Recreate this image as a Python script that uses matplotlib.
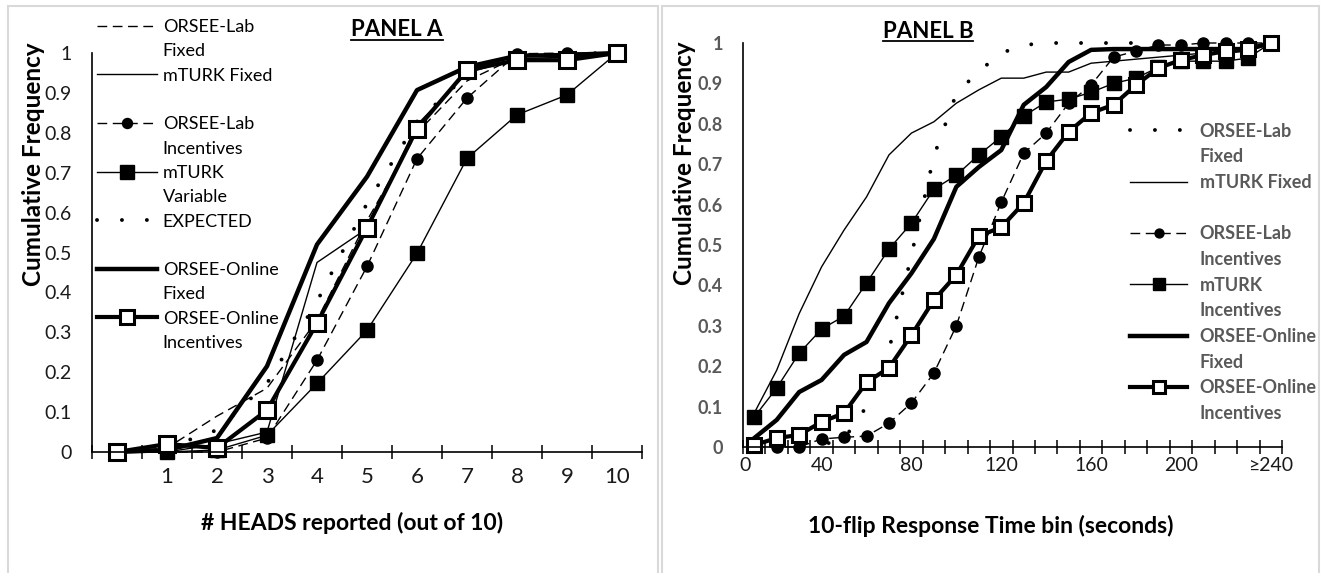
import numpy as np
import matplotlib
matplotlib.use('Agg')
import matplotlib.pyplot as plt
from matplotlib.lines import Line2D
from matplotlib.patches import Rectangle

plt.rcParams['font.family'] = ['Lato', 'DejaVu Sans']

# Panel A - cumulative share by number of heads reported
heads_labels = ['', '1', '2', '3', '4', '5', '6', '7', '8', '9', '10']
a_lab_fixed = [0, 0.01, 0.09, 0.16, 0.33, 0.58, 0.80, 0.93, 0.99, 1.0, 1.0]
a_mturk_fixed = [0, 0, 0.02, 0.05, 0.475, 0.56, 0.82, 0.95, 0.985, 0.99, 1.0]
a_lab_incent = [0, 0, 0, 0.035, 0.23, 0.465, 0.735, 0.887, 0.998, 1.0, 1.0]
a_mturk_var = [0, 0, 0.005, 0.042, 0.172, 0.305, 0.498, 0.736, 0.845, 0.895, 1.0]
a_expected = [0.001, 0.011, 0.055, 0.172, 0.377, 0.623, 0.828, 0.945, 0.989, 0.999, 1.0]
a_online_fixed = [0, 0.005, 0.035, 0.215, 0.52, 0.69, 0.907, 0.965, 0.993, 0.995, 1.0]
a_online_incent = [0, 0.02, 0.01, 0.105, 0.323, 0.562, 0.81, 0.957, 0.982, 0.982, 1.0]

# Panel B - cumulative share by response time bin (24 bins)
b_tick_labels = ['0', '40', '80', '120', '160', '200', '≥240']
b_lab_fixed = [0, 0, 0, 0.005, 0.02, 0.10, 0.24, 0.475, 0.72, 0.875, 0.93, 0.975,
               0.995, 1, 1, 1, 1, 1, 1, 1, 1, 1, 1, 1]
b_mturk_fixed = [0.084, 0.19, 0.33, 0.446, 0.537, 0.619, 0.723, 0.777, 0.805, 0.851,
                 0.884, 0.913, 0.913, 0.928, 0.928, 0.95, 0.955, 0.96, 0.965, 0.97,
                 0.975, 0.975, 0.98, 1.0]
b_lab_incent = [0, 0, 0, 0.02, 0.024, 0.027, 0.059, 0.109, 0.183, 0.30, 0.47, 0.606,
                0.727, 0.777, 0.851, 0.896, 0.965, 0.98, 0.995, 0.995, 1, 1, 1, 1]
b_mturk_incent = [0.074, 0.146, 0.232, 0.292, 0.324, 0.406, 0.49, 0.554, 0.638, 0.673,
                  0.723, 0.768, 0.819, 0.854, 0.861, 0.878, 0.90, 0.913, 0.94, 0.955,
                  0.955, 0.955, 0.963, 1.0]
b_online_fixed = [0.022, 0.067, 0.136, 0.166, 0.228, 0.26, 0.356, 0.43, 0.515, 0.644,
                  0.693, 0.735, 0.847, 0.891, 0.953, 0.983, 0.985, 0.985, 0.985, 0.985,
                  0.985, 0.985, 0.985, 1.0]
b_online_incent = [0.005, 0.022, 0.03, 0.062, 0.084, 0.16, 0.196, 0.277, 0.364, 0.426,
                   0.522, 0.544, 0.604, 0.708, 0.78, 0.827, 0.847, 0.896, 0.938, 0.958,
                   0.97, 0.98, 0.985, 1.0]

y_ticks = np.round(np.arange(0, 1.01, 0.1), 1)
y_tick_labels = ['0'] + [f'{v:g}' for v in y_ticks[1:-1]] + ['1']

W, H = 1325, 573
fig = plt.figure(figsize=(W / 100, H / 100), dpi=100)

# light grey panel frames
for x0, w in [(8, 650), (662, 657)]:
    fig.patches.append(Rectangle((x0 / W, -0.02), w / W, 1 - 6 / H + 0.02,
                                 transform=fig.transFigure, fill=False,
                                 edgecolor='#d9d9d9', lw=1.5))

axA = fig.add_axes([92 / W, 121 / H, 550 / W, 399 / H])
axB = fig.add_axes([743 / W, 126 / H, 539 / W, 404 / H])

dotted = (0, (0.01, 6.4))
dashed = (0, (7, 4))


def style(ax, n, xlab_size, ylab_size, ylab_color, ylab_weight, xpad):
    ax.set_xlim(-0.5, n - 0.5)
    ax.set_ylim(0, 1)
    for s in ['top', 'right']:
        ax.spines[s].set_visible(False)
    for s in ['left', 'bottom']:
        ax.spines[s].set_linewidth(1.2)
        ax.spines[s].set_color('black')
    ax.set_xticks(np.arange(n + 1) - 0.5, minor=True)
    ax.tick_params(axis='x', which='minor', direction='inout', length=9.5,
                   width=1.1, color='black')
    ax.tick_params(axis='x', which='major', length=0, pad=xpad,
                   labelsize=xlab_size, labelcolor='#1a1a1a')
    ax.set_yticks(y_ticks, y_tick_labels)
    ax.tick_params(axis='y', length=0, pad=14.4, labelsize=ylab_size,
                   labelcolor=ylab_color)
    for t in ax.get_yticklabels():
        t.set_fontweight(ylab_weight)


# ---- Panel A ----
xa = np.arange(len(a_expected))
hA = []
hA.append(axA.plot(xa, a_lab_fixed, color='black', lw=1.0, ls=dashed, clip_on=False)[0])
hA.append(axA.plot(xa, a_mturk_fixed, color='black', lw=1.0, clip_on=False)[0])
hA.append(axA.plot(xa, a_lab_incent, color='black', lw=1.0, ls=dashed, marker='o',
                   ms=8, clip_on=False)[0])
hA.append(axA.plot(xa, a_mturk_var, color='black', lw=1.0, marker='s', ms=10.5,
                   clip_on=False)[0])
hA.append(axA.plot(xa, a_expected, color='black', lw=2.8, ls=dotted,
                   dash_capstyle='round', clip_on=False)[0])
hA.append(axA.plot(xa, a_online_fixed, color='black', lw=3.2, clip_on=False)[0])
hA.append(axA.plot(xa, a_online_incent, color='black', lw=3.0, marker='s', ms=11,
                   mfc='white', mec='black', mew=2.2, clip_on=False)[0])
style(axA, len(xa), 16, 14, '#1a1a1a', 'normal', 11)
axA.set_xticks(xa, heads_labels)
axA.set_xlabel('# HEADS reported (out of 10)', fontsize=16.5, fontweight='bold', va='center')
axA.xaxis.set_label_coords(0.473, -0.178)
axA.set_ylabel('Cumulative Frequency', fontsize=17.5, fontweight='bold', va='center')
axA.yaxis.set_label_coords(-0.107, 0.72)

blank = Line2D([], [], linestyle='none')
labelsA = ['ORSEE-Lab', 'Fixed', 'mTURK Fixed', ' ', 'ORSEE-Lab', 'Incentives', 'mTURK',
           'Variable', 'EXPECTED', ' ', 'ORSEE-Online', 'Fixed', 'ORSEE-Online', 'Incentives']
handlesA = []
for h in hA:
    handlesA += [h, blank]
axA.legend(handlesA, labelsA, loc='upper left', bbox_to_anchor=(0.009, 1.085),
           frameon=False, borderpad=0, borderaxespad=0, handlelength=3.3,
           handletextpad=0.35, labelspacing=0.46, fontsize=13, markerscale=0.9)

# ---- Panel B ----
xb = np.arange(len(b_lab_fixed))
hB = []
hB.append(axB.plot(xb, b_lab_fixed, color='black', lw=2.8, ls=dotted,
                   dash_capstyle='round', clip_on=False)[0])
hB.append(axB.plot(xb, b_mturk_fixed, color='black', lw=1.0, clip_on=False)[0])
hB.append(axB.plot(xb, b_lab_incent, color='black', lw=1.0, ls=dashed, marker='o',
                   ms=8, clip_on=False)[0])
hB.append(axB.plot(xb, b_mturk_incent, color='black', lw=1.0, marker='s', ms=10,
                   clip_on=False)[0])
hB.append(axB.plot(xb, b_online_fixed, color='black', lw=3.2, clip_on=False)[0])
hB.append(axB.plot(xb, b_online_incent, color='black', lw=3.0, marker='s', ms=10.5,
                   mfc='white', mec='black', mew=2.2, clip_on=False)[0])
style(axB, len(xb), 14, 13, '#595959', 'bold', 7)
axB.set_xticks([-0.4] + list(range(3, len(xb), 4)), b_tick_labels)
axB.set_xlabel('10-flip Response Time bin (seconds)', fontsize=16.5, fontweight='bold',
               va='center')
axB.xaxis.set_label_coords(0.46, -0.196)
axB.set_ylabel('Cumulative Frequency', fontsize=17.5, fontweight='bold', va='center')
axB.yaxis.set_label_coords(-0.108, 0.703)

labelsB = ['ORSEE-Lab', 'Fixed', 'mTURK Fixed', ' ', 'ORSEE-Lab', 'Incentives', 'mTURK',
           'Incentives', 'ORSEE-Online', 'Fixed', 'ORSEE-Online', 'Incentives']
handlesB = []
for h in hB:
    handlesB += [h, blank]
axB.legend(handlesB, labelsB, loc='upper left', bbox_to_anchor=(0.718, 0.803),
           frameon=False, borderpad=0, borderaxespad=0, handlelength=3.16,
           handletextpad=0.7, labelspacing=0.48, labelcolor='#595959',
           prop={'weight': 'bold', 'size': 13}, markerscale=0.8)

# panel titles, underlined
titles = [fig.text(397 / W, 1 - 30 / H, 'PANEL A', ha='center', va='center',
                   fontsize=16, fontweight='bold'),
          fig.text(928 / W, 1 - 31 / H, 'PANEL B', ha='center', va='center',
                   fontsize=16, fontweight='bold')]
fig.canvas.draw()
inv = fig.transFigure.inverted()
for t in titles:
    bb = t.get_window_extent()
    (x0, y0), (x1, _) = inv.transform([(bb.x0, bb.y0 + 1), (bb.x1, bb.y0 + 1)])
    fig.add_artist(Line2D([x0, x1], [y0, y0], transform=fig.transFigure,
                          color='black', lw=1.3))

fig.savefig('out.png', dpi=100)
